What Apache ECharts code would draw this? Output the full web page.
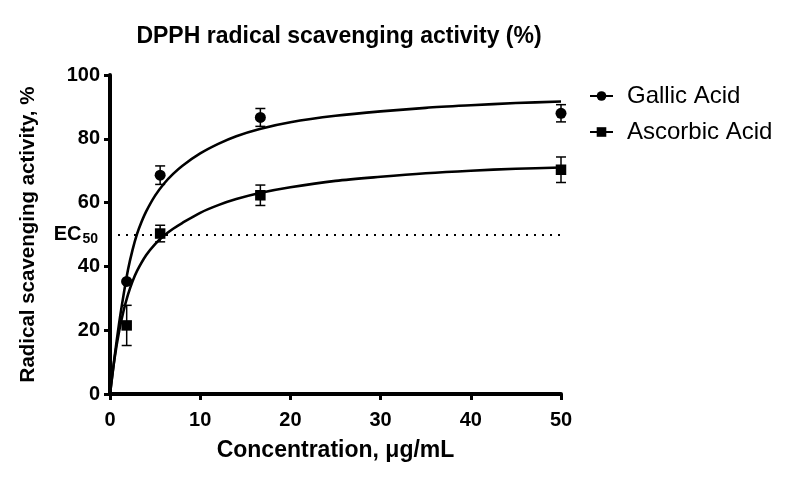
<!DOCTYPE html>
<html>
<head>
<meta charset="utf-8">
<script src="https://cdn.jsdelivr.net/npm/echarts@6/dist/echarts.min.js"></script>
<style>html,body{margin:0;padding:0;background:#fff}#c{width:788px;height:487px}</style>
</head>
<body>
<div id="c"></div>
<script>
// Measured points: [concentration (µg/mL), activity (%)]
const gallicPoints = [[1.85, 35.3], [5.56, 68.6], [16.67, 86.7], [50, 88.0]];
const gallicErr = [0.3, 2.9, 2.8, 2.7];
const ascorbicPoints = [[1.85, 21.5], [5.56, 50.3], [16.67, 62.3], [50, 70.3]];
const ascorbicErr = [6.3, 2.6, 3.2, 4.0];

// Fitted curves
const gallicCurve = [[0, 0], [0.5, 11.5], [1, 22], [1.5, 31], [2, 39], [2.5, 45.2], [3, 50.2], [3.5, 54], [4, 57.2], [5, 62.2], [6, 66], [7, 69], [8, 71.5], [10, 75.4], [12, 78.4], [14, 80.8], [16.6, 83.1], [20, 85.2], [25, 87.2], [30, 88.6], [35, 89.7], [40, 90.5], [45, 91.2], [50, 91.7]];
const ascorbicCurve = [[0, 0], [0.5, 11], [1, 19.5], [1.5, 26], [2, 31.2], [2.5, 35.3], [3, 38.6], [4, 43.5], [5, 47], [6, 49.7], [7, 51.8], [8, 53.6], [10, 56.8], [12, 59.2], [14, 61.1], [16.6, 63], [20, 64.8], [25, 66.8], [30, 68.1], [35, 69.2], [40, 70], [45, 70.6], [50, 71.0]];

const seriesNames = ['Gallic Acid', 'Ascorbic Acid'];
const ec50Level = 50;
const xTicks = {min: 0, max: 50, interval: 10};
const yTicks = {min: 0, max: 100, interval: 20};

const FONT = 'Liberation Sans, Arial, Helvetica, sans-serif';

function errData(points, errs) {
  return points.map((p, i) => [p[0], p[1] - errs[i], p[1] + errs[i]]);
}
function errRender(params, api) {
  const x = api.value(0);
  const lo = api.coord([x, api.value(1)]);
  const hi = api.coord([x, api.value(2)]);
  const w = 5;
  const st = {stroke: '#000', lineWidth: 1.5};
  return {
    type: 'group',
    children: [
      {type: 'line', shape: {x1: lo[0], y1: lo[1], x2: hi[0], y2: hi[1]}, style: st},
      {type: 'line', shape: {x1: lo[0] - w, y1: lo[1], x2: lo[0] + w, y2: lo[1]}, style: st},
      {type: 'line', shape: {x1: hi[0] - w, y1: hi[1], x2: hi[0] + w, y2: hi[1]}, style: st}
    ]
  };
}

const chart = echarts.init(document.getElementById('c'));
chart.setOption({
  animation: false,
  backgroundColor: '#fff',
  title: {
    text: 'DPPH radical scavenging activity (%)',
    left: 334, top: 20, textAlign: 'center',
    textStyle: {fontFamily: FONT, fontSize: 23, fontWeight: 'bold', color: '#000'}
  },
  legend: {
    orient: 'vertical', left: 584, top: 79, itemGap: 12,
    itemWidth: 23, itemHeight: 12,
    data: seriesNames,
    textStyle: {fontFamily: FONT, fontSize: 24, color: '#000', padding: [0, 0, 0, 9]}
  },
  grid: {left: 110, right: 227, top: 75, bottom: 93, containLabel: false},
  xAxis: {
    type: 'value', min: xTicks.min, max: xTicks.max, interval: xTicks.interval,
    name: 'Concentration, μg/mL', nameLocation: 'middle', nameGap: 45,
    nameTextStyle: {fontFamily: FONT, fontSize: 23, fontWeight: 'bold', color: '#000'},
    axisLine: {show: true, onZero: false, lineStyle: {color: '#000', width: 4}},
    axisTick: {show: true, length: 6, lineStyle: {color: '#000', width: 3}},
    axisLabel: {margin: 16, fontFamily: FONT, fontSize: 20, fontWeight: 'bold', color: '#000'},
    splitLine: {show: false}
  },
  yAxis: {
    type: 'value', min: yTicks.min, max: yTicks.max, interval: yTicks.interval,
    name: 'Radical scavenging activity, %', nameLocation: 'middle', nameGap: 71,
    nameTextStyle: {fontFamily: FONT, fontSize: 20.5, fontWeight: 'bold', color: '#000'},
    axisLine: {show: true, onZero: false, lineStyle: {color: '#000', width: 4}},
    axisTick: {show: true, length: 6, lineStyle: {color: '#000', width: 3}},
    axisLabel: {margin: 10, fontFamily: FONT, fontSize: 20, fontWeight: 'bold', color: '#000'},
    splitLine: {show: false}
  },
  series: [
    {
      name: seriesNames[0], type: 'line', data: gallicCurve, smooth: 0.3,
      symbol: 'circle', showSymbol: false, color: '#000',
      lineStyle: {color: '#000', width: 2.6}, z: 2,
      markLine: {
        silent: true, symbol: 'none',
        lineStyle: {color: '#000', width: 2, type: [2, 6]},
        label: {
          position: 'start', distance: 12,
          formatter: '{a|EC}{b|50}',
          rich: {
            a: {fontFamily: FONT, fontSize: 20, fontWeight: 'bold', color: '#000'},
            b: {fontFamily: FONT, fontSize: 14, fontWeight: 'bold', color: '#000', padding: [9, 0, 0, 1]}
          }
        },
        data: [{yAxis: ec50Level}]
      }
    },
    {
      name: seriesNames[1], type: 'line', data: ascorbicCurve, smooth: 0.3,
      symbol: 'rect', showSymbol: false, color: '#000',
      lineStyle: {color: '#000', width: 2.6}, z: 2
    },
    {
      name: seriesNames[0], type: 'custom', renderItem: errRender,
      data: errData(gallicPoints, gallicErr), z: 3
    },
    {
      name: seriesNames[1], type: 'custom', renderItem: errRender,
      data: errData(ascorbicPoints, ascorbicErr), z: 3
    },
    {
      name: seriesNames[0], type: 'scatter', data: gallicPoints,
      symbol: 'circle', symbolSize: 11, itemStyle: {color: '#000', opacity: 1}, z: 4
    },
    {
      name: seriesNames[1], type: 'scatter', data: ascorbicPoints,
      symbol: 'rect', symbolSize: 10.5, itemStyle: {color: '#000', opacity: 1}, z: 4
    }
  ]
});
</script>
</body>
</html>
